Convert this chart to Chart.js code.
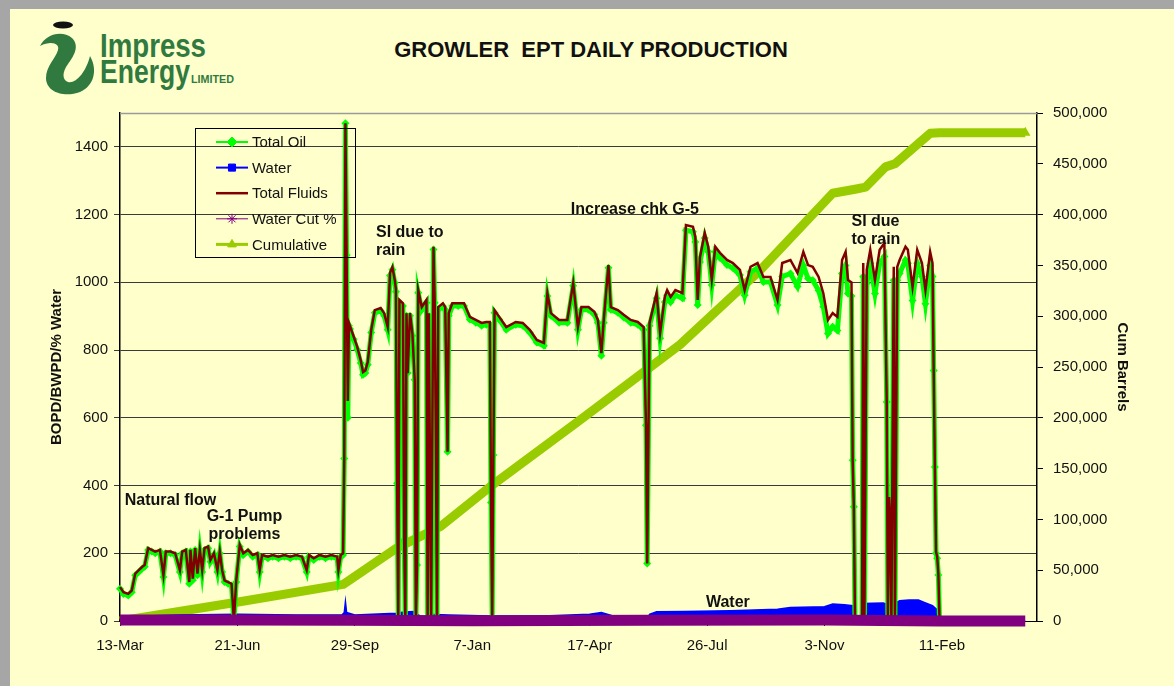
<!DOCTYPE html>
<html>
<head>
<meta charset="utf-8">
<title>Growler EPT Daily Production</title>
<script src="https://cdn.jsdelivr.net/npm/chart.js@4.4.1/dist/chart.umd.min.js"></script>
<style>
  html, body { margin: 0; padding: 0; }
  body { width: 1174px; height: 686px; overflow: hidden; background: #FFFFCC; position: relative;
         font-family: Arial, "Liberation Sans", sans-serif; }
  #frameLeft { position: absolute; left: 0; top: 0; width: 10px; height: 686px; background: #A6A6A6; }
  #frameTop { position: absolute; left: 0; top: 0; width: 1174px; height: 9px; background: #A6A6A6; }
  #title { position: absolute; left: 591px; top: 39px; transform: translateX(-50%); white-space: nowrap;
           font-weight: bold; font-size: 22px; line-height: 22px; color: #111; }
  #logo { position: absolute; left: 0; top: 0; }
  #chart { position: absolute; left: 0; top: 0; }
</style>
</head>
<body>
<div id="frameLeft"></div>
<div id="frameTop"></div>
<svg id="logo" width="250" height="100">
  <ellipse cx="63" cy="25" rx="10" ry="3.5" fill="#111"/>
  <path d="M40,46 C46,34 62,30 72,38 C80,46 74,56 68,64 C62,72 62,80 68,82 C76,84 86,72 90,56 C98,70 94,86 80,92 C64,98 46,92 46,78 C46,66 56,58 58,50 C60,44 52,40 40,46 Z" fill="#317A3F"/>
  <text x="100" y="57" font-family='"Liberation Sans Narrow", "Arial Narrow", sans-serif' font-size="33" font-weight="bold" fill="#317A3F" textLength="106" lengthAdjust="spacingAndGlyphs">Impress</text>
  <text x="100" y="83" font-family='"Liberation Sans Narrow", "Arial Narrow", sans-serif' font-size="33" font-weight="bold" fill="#317A3F" textLength="90" lengthAdjust="spacingAndGlyphs">Energy</text>
  <text x="191" y="83" font-family='"Liberation Sans Narrow", "Arial Narrow", sans-serif' font-size="11" font-weight="bold" fill="#317A3F" textLength="43" lengthAdjust="spacingAndGlyphs">LIMITED</text>
</svg>
<div id="title">GROWLER&nbsp; EPT DAILY PRODUCTION</div>
<canvas id="chart" width="1174" height="686"></canvas>
<script>
'use strict';

// x axis is days counted from 13-Mar
var tickDays = [0, 100, 200, 300, 400, 500, 600, 700];
var tickLabels = ['13-Mar', '21-Jun', '29-Sep', '7-Jan', '17-Apr', '26-Jul', '3-Nov', '11-Feb'];
var leftTicks = [0, 200, 400, 600, 800, 1000, 1200, 1400];

// daily production
var prodDays = [
  0, 3, 7, 10, 13, 16, 19, 21, 24, 27,
  30, 34, 37, 39, 43, 47, 51, 53, 56, 59,
  60, 62, 64, 66, 68, 70, 72, 75, 77, 80,
  83, 85, 87, 89, 92, 95, 97, 99, 102, 105,
  109, 113, 117, 119, 121, 126, 130, 135, 140, 145,
  150, 155, 159, 161, 165, 170, 175, 180, 185, 186,
  188, 190, 191, 192, 193, 194, 195, 196, 199, 202,
  205, 207, 209, 211, 214, 217, 222, 225, 228, 230,
  232, 234, 235, 236, 237, 238, 241, 242, 243, 244,
  245, 247, 249, 251, 252, 253, 254, 257, 261, 262,
  263, 265, 267, 268, 269, 270, 271, 275, 277, 279,
  280, 283, 288, 293, 298, 303, 308, 312, 315, 316,
  317, 318, 319, 323, 329, 337, 343, 349, 355, 361,
  364, 367, 374, 381, 386, 390, 393, 399, 404, 407,
  410, 412, 416, 418, 424, 429, 435, 441, 446, 448,
  449, 451, 457, 460, 464, 466, 469, 473, 479, 482,
  488, 490, 492, 494, 498, 501, 504, 507, 511, 517,
  522, 528, 532, 537, 543, 548, 554, 560, 564, 571,
  577, 582, 586, 590, 595, 599, 603, 607, 611, 615,
  618, 620, 623, 624, 625, 626, 632, 633, 634, 636,
  639, 643, 647, 651, 653, 654, 655, 656, 657, 659,
  660, 662, 664, 669, 671, 675, 679, 683, 686, 690,
  692, 693, 694, 695, 696, 697, 698
];
var totalFluids = [
  100, 85, 80, 90, 140, 150, 160, 165, 215, 210,
  205, 210, 135, 205, 205, 200, 150, 205, 210, 115,
  210, 125, 215, 140, 210, 150, 215, 220, 180, 200,
  150, 205, 150, 120, 115, 110, 0, 120, 225, 200,
  210, 195, 200, 150, 195, 190, 195, 190, 195, 190,
  195, 190, 150, 195, 185, 195, 190, 195, 190, 150,
  195, 200, 480, 1470, 1080, 650, 880, 870, 840, 810,
  770, 735, 740, 765, 860, 918, 924, 909, 868, 1028,
  1045, 1007, 980, 407, 0, 948, 938, 240, 0, 909,
  732, 909, 850, 712, 0, 165, 977, 927, 948, 0,
  909, 0, 1105, 948, 543, 0, 927, 938, 927, 500,
  909, 938, 938, 938, 898, 889, 880, 883, 883, 350,
  0, 490, 918, 898, 868, 883, 880, 860, 830, 821,
  968, 909, 889, 889, 998, 868, 927, 927, 913, 889,
  791, 889, 1051, 927, 918, 904, 889, 883, 868, 578,
  170, 880, 968, 850, 957, 977, 957, 977, 968, 1169,
  1164, 1134, 948, 1075, 1146, 1105, 1007, 1105, 1087, 1066,
  1057, 1037, 977, 1046, 1057, 1016, 1016, 948, 1057, 1066,
  1028, 1090, 1051, 1046, 1016, 968, 889, 909, 898, 1066,
  1090, 1007, 1000, 475, 337, 0, 0, 1057, 0, 1037,
  1096, 1007, 1096, 1116, 650, 0, 366, 300, 0, 1046,
  0, 1046, 1066, 1105, 1096, 986, 1096, 1057, 977, 1090,
  1057, 740, 460, 204, 190, 140, 0
];
var totalOil = [
  95, 80, 75, 85, 135, 145, 155, 160, 210, 205,
  200, 205, 130, 200, 200, 195, 145, 200, 205, 110,
  205, 120, 210, 135, 205, 145, 210, 215, 175, 195,
  145, 200, 145, 115, 110, 105, 0, 115, 220, 195,
  205, 190, 195, 145, 190, 185, 190, 185, 190, 185,
  190, 185, 145, 190, 180, 190, 185, 190, 185, 145,
  190, 195, 480, 1470, 1080, 600, 872, 862, 832, 802,
  762, 727, 732, 757, 852, 910, 916, 901, 860, 1020,
  1037, 999, 972, 407, 0, 940, 930, 240, 0, 901,
  732, 901, 842, 712, 0, 165, 969, 919, 940, 0,
  901, 0, 1097, 940, 543, 0, 919, 930, 919, 500,
  901, 930, 930, 930, 890, 881, 872, 875, 875, 350,
  0, 490, 910, 890, 860, 875, 872, 852, 822, 813,
  960, 901, 881, 881, 990, 860, 919, 919, 905, 881,
  783, 881, 1043, 919, 910, 896, 881, 875, 860, 578,
  170, 872, 953, 835, 942, 962, 942, 962, 953, 1154,
  1149, 1119, 933, 1060, 1131, 1090, 992, 1090, 1072, 1051,
  1042, 1022, 962, 1031, 1042, 1001, 1001, 933, 1017, 1026,
  988, 1050, 1011, 1006, 976, 928, 849, 869, 858, 1026,
  1050, 967, 960, 475, 337, 0, 0, 1017, 0, 997,
  1056, 967, 1056, 1076, 647, 0, 366, 298, 0, 1006,
  0, 1006, 1026, 1065, 1056, 946, 1056, 1017, 937, 1050,
  1017, 740, 455, 200, 185, 136, 0
];

var waterDays = [0, 5, 20, 50, 100, 150, 189, 191, 192, 193, 200, 230, 236, 237, 238, 250, 262, 263, 280, 316,
  317, 319, 360, 400, 410, 420, 448, 449, 451, 457, 480, 520, 560, 571, 600, 607, 617, 624, 625, 632,
  633, 650, 653, 654, 659, 664, 672, 680, 685, 692, 697, 698, 771];
var water = [10, 12, 15, 18, 20, 18, 18, 25, 57, 25, 18, 22, 22, 0, 25, 28, 0, 20, 18, 15,
  0, 15, 15, 20, 25, 15, 12, 0, 20, 27, 28, 30, 35, 40, 42, 50, 48, 45, 0, 0,
  52, 53, 50, 0, 50, 60, 62, 62, 55, 45, 30, 0, 0];

var cutDays = [0, 100, 190, 192, 300, 450, 600, 698, 771];
var waterCut = [3, 3, 2, 2, 1, 2, 3, 0, 0];

var cumDays = [0, 102, 190, 236, 273, 315, 392, 477, 545, 607, 626, 635, 652, 660, 690, 698, 771];
var cumulative = [0, 19000, 36000, 72000, 93000, 132000, 198000, 272000, 345000, 421000, 425000, 427000,
  447000, 450000, 480000, 480500, 480500];

var notes = [
  {lines: ['Natural flow'], day: 4, value: 357, align: 'left'},
  {lines: ['G-1 Pump', 'problems'], day: 106, value: 307, align: 'center'},
  {lines: ['SI due to', 'rain'], day: 218, value: 1146, align: 'left'},
  {lines: ['Increase chk G-5'], day: 384, value: 1214, align: 'left'},
  {lines: ['Water'], day: 499, value: 53, align: 'left'},
  {lines: ['SI due', 'to rain'], day: 623, value: 1178, align: 'left'}
];

var FONT = 'Arial, "Liberation Sans", sans-serif';
Chart.defaults.font.family = FONT;
Chart.defaults.font.size = 15;
Chart.defaults.color = '#111';

function pairs(xs, ys) {
  return xs.map((d, i) => ({x: d, y: ys[i]}));
}

var topBorder = {
  id: 'topBorder',
  beforeDatasetsDraw(chart) {
    var a = chart.chartArea, ctx = chart.ctx;
    ctx.save();
    ctx.strokeStyle = '#9a9a9a';
    ctx.lineWidth = 1.5;
    ctx.beginPath();
    ctx.moveTo(a.left, a.top + 0.5);
    ctx.lineTo(a.right, a.top + 0.5);
    ctx.stroke();
    ctx.restore();
  }
};

var notesPlugin = {
  id: 'notes',
  afterDatasetsDraw(chart) {
    var ctx = chart.ctx, xs = chart.scales.x, ys = chart.scales.y;
    ctx.save();
    ctx.font = 'bold 16px ' + FONT;
    ctx.fillStyle = '#111';
    ctx.textBaseline = 'middle';
    notes.forEach((n) => {
      ctx.textAlign = n.align;
      n.lines.forEach((t, i) => {
        ctx.fillText(t, xs.getPixelForValue(n.day), ys.getPixelForValue(n.value) + i * 18);
      });
    });
    ctx.restore();
  }
};

// legend box drawn inside the plot like the original
var boxLegend = {
  id: 'boxLegend',
  afterDraw(chart) {
    var ctx = chart.ctx;
    ctx.save();
    ctx.strokeStyle = '#000';
    ctx.lineWidth = 1;
    ctx.strokeRect(195.5, 128.5, 160, 129);
    ctx.font = '15px ' + FONT;
    ctx.textBaseline = 'middle';
    ctx.textAlign = 'left';
    chart.data.datasets.forEach((ds, i) => {
      var y = 142 + i * 25.6;
      ctx.strokeStyle = ds.borderColor;
      ctx.lineWidth = ds.legendWidth;
      ctx.beginPath();
      ctx.moveTo(216, y);
      ctx.lineTo(248, y);
      ctx.stroke();
      if (ds.legendMarker) {
        ctx.fillStyle = ds.borderColor;
        ctx.lineWidth = 1;
        Chart.helpers.drawPoint(ctx, {pointStyle: ds.legendMarker, radius: 5, rotation: 0, borderWidth: 1}, 232, y);
      }
      ctx.fillStyle = '#111';
      ctx.fillText(ds.label, 252, y + 1);
    });
    ctx.restore();
  }
};

var ctx = document.getElementById('chart').getContext('2d');
var chart = new Chart(ctx, {
  type: 'line',
  data: {
    datasets: [{
      label: 'Total Oil',
      data: pairs(prodDays, totalOil),
      borderColor: '#00FF00',
      backgroundColor: '#00FF00',
      borderWidth: 5,
      pointStyle: 'rectRot',
      pointRadius: 4,
      pointBorderWidth: 0,
      legendWidth: 2, legendMarker: 'rectRot',
      clip: false,
      order: 3
    }, {
      label: 'Water',
      data: pairs(waterDays, water),
      borderColor: '#0000FF',
      backgroundColor: '#0000FF',
      fill: 'origin',
      borderWidth: 1.5,
      pointRadius: 0,
      legendWidth: 2, legendMarker: 'rect',
      order: 4
    }, {
      label: 'Total Fluids',
      data: pairs(prodDays, totalFluids),
      borderColor: '#800000',
      borderWidth: 2.5,
      pointRadius: 0,
      legendWidth: 2.5,
      clip: false,
      order: 2
    }, {
      label: 'Water Cut %',
      data: pairs(cutDays, waterCut),
      borderColor: '#800080',
      borderWidth: 11,
      pointRadius: 0,
      legendWidth: 1, legendMarker: 'star',
      clip: false,
      order: 1
    }, {
      label: 'Cumulative',
      data: pairs(cumDays, cumulative),
      yAxisID: 'y1',
      borderColor: '#99CC00',
      backgroundColor: '#99CC00',
      borderWidth: 9,
      borderJoinStyle: 'round',
      pointStyle: 'triangle',
      pointRadius: (c) => c.dataIndex === cumDays.length - 1 ? 6 : 0,
      pointBorderWidth: 0,
      legendWidth: 3, legendMarker: 'triangle',
      clip: false,
      order: 5
    }]
  },
  options: {
    responsive: false,
    animation: false,
    layout: {padding: {top: 113, left: 0, right: 0, bottom: 0}},
    plugins: {legend: {display: false}, tooltip: {enabled: false}},
    scales: {
      x: {
        type: 'linear',
        min: 0,
        max: 781,
        afterBuildTicks: (s) => { s.ticks = tickDays.map((v) => ({value: v})); },
        afterFit: (s) => { s.height = 65; },
        grid: {drawOnChartArea: false, drawTicks: true, tickLength: 5, color: '#000'},
        border: {display: true, color: '#000', width: 1},
        ticks: {
          autoSkip: false, maxRotation: 0, padding: 11,
          callback: (v) => tickLabels[tickDays.indexOf(v)]
        }
      },
      y: {
        position: 'left',
        min: 0,
        max: 1500,
        afterBuildTicks: (s) => { s.ticks = leftTicks.map((v) => ({value: v})); },
        afterFit: (s) => { s.width = 120; },
        grid: {color: '#3a3a3a', lineWidth: 1, tickLength: 6},
        border: {display: true, color: '#000', width: 1.5},
        ticks: {padding: 6, callback: (v) => String(v)},
        title: {
          display: true, text: 'BOPD/BWPD/% Water',
          font: {size: 15, weight: 'bold'}, color: '#111',
          padding: {top: 48, bottom: 0}
        }
      },
      y1: {
        position: 'right',
        min: 0,
        max: 500000,
        afterFit: (s) => { s.width = 137; },
        grid: {drawOnChartArea: false, drawTicks: true, tickLength: 6, color: '#000'},
        border: {display: true, color: '#000', width: 1.5},
        ticks: {
          stepSize: 50000, padding: 10,
          callback: (v) => v.toLocaleString('en-US')
        },
        title: {
          display: true, text: 'Cum Barrels',
          font: {size: 15, weight: 'bold'}, color: '#111',
          padding: {top: 43, bottom: 0}
        }
      }
    }
  },
  plugins: [topBorder, notesPlugin, boxLegend]
});
</script>
</body>
</html>
